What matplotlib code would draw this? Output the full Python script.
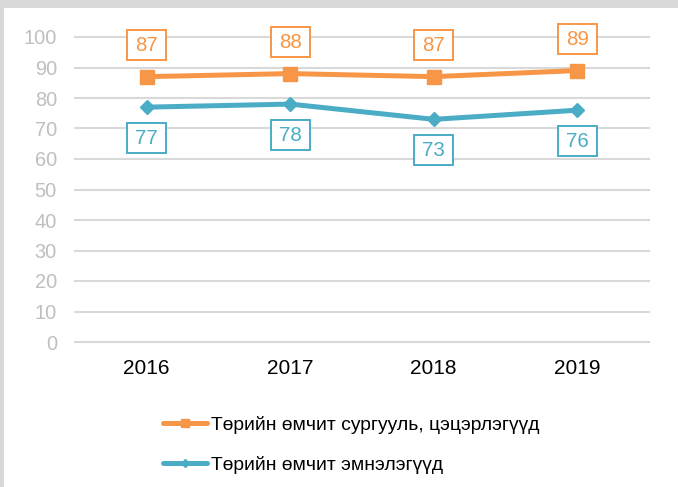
import matplotlib
matplotlib.use("Agg")
import matplotlib.pyplot as plt
from matplotlib.patches import Rectangle
from matplotlib.path import Path

plt.rcParams['font.family'] = ['Liberation Sans', 'DejaVu Sans']

years = ["2016", "2017", "2018", "2019"]
schools = [87, 88, 87, 89]
hospitals = [77, 78, 73, 76]
series_names = ["Төрийн өмчит сургууль, цэцэрлэгүүд", "Төрийн өмчит эмнэлэгүүд"]
yticks = list(range(0, 101, 10))

ORANGE = "#F79646"
BLUE = "#4BACC6"
GRID = "#D9D9D9"


def label_box(x0, y0, width, height, mutation_size):
    px = 0.40 * mutation_size
    py = 0.27 * mutation_size
    x0, y0 = x0 - px, y0 - py
    x1, y1 = x0 + width + 2 * px, y0 + height + 2 * py
    return Path([(x0, y0), (x1, y0), (x1, y1), (x0, y1), (x0, y0)],
                closed=True)


fig = plt.figure(figsize=(6.78, 4.87), dpi=100)
fig.patch.set_facecolor(GRID)
fig.patches.append(Rectangle((4/678, 0), 1, 479/487, transform=fig.transFigure,
                             facecolor="white", edgecolor="none", zorder=-10))

ax = fig.add_axes([75/678, 1-342/487, 574/678, 305/487])
ax.set_zorder(5)
ax.set_facecolor("none")
x = list(range(len(years)))

l1, = ax.plot(x, schools, color=ORANGE, lw=3.6, marker="s", ms=10.5, zorder=3,
              solid_capstyle="round", label=series_names[0])
l2, = ax.plot(x, hospitals, color=BLUE, lw=3.6, marker="D", ms=7, zorder=3,
              solid_capstyle="round", label=series_names[1])

for xi, v in zip(x, schools):
    ax.annotate(f"{v}", (xi, v), xytext=(0, 22.7), textcoords="offset points",
                ha="center", va="center", fontsize=14.8, color=ORANGE,
                bbox=dict(boxstyle=label_box, fc="white", ec=ORANGE, lw=1.4))
for xi, v in zip(x, hospitals):
    ax.annotate(f"{v}", (xi, v), xytext=(0, -22.3), textcoords="offset points",
                ha="center", va="center", fontsize=14.8, color=BLUE,
                bbox=dict(boxstyle=label_box, fc="white", ec=BLUE, lw=1.4))

ax.set_xlim(-0.5, len(years) - 0.5)
ax.set_ylim(0, 100)
ax.set_yticks(yticks)
ax.set_xticks(x)
ax.set_xticklabels(years)
ax.tick_params(axis="y", length=0, pad=13, labelsize=14.4, labelcolor="#BFBFBF")
ax.tick_params(axis="x", length=0, pad=12.5, labelsize=15, labelcolor="black")
for s in ax.spines.values():
    s.set_visible(False)
ax.grid(axis="y", color=GRID, lw=1.5)
ax.set_axisbelow(True)
for gl in ax.get_ygridlines():
    gl.set_clip_on(False)

leg = fig.legend(handles=[l1, l2], loc="upper left",
                 bbox_to_anchor=(163/678, 1-416/487), frameon=False,
                 fontsize=13.9, handlelength=2.3, handletextpad=0.2,
                 labelspacing=1.15, borderpad=0, borderaxespad=0)
leg.legend_handles[0].set_markersize(5.5)
leg.legend_handles[1].set_markersize(4.5)

fig.savefig("out.png", dpi=100, facecolor=fig.get_facecolor())
